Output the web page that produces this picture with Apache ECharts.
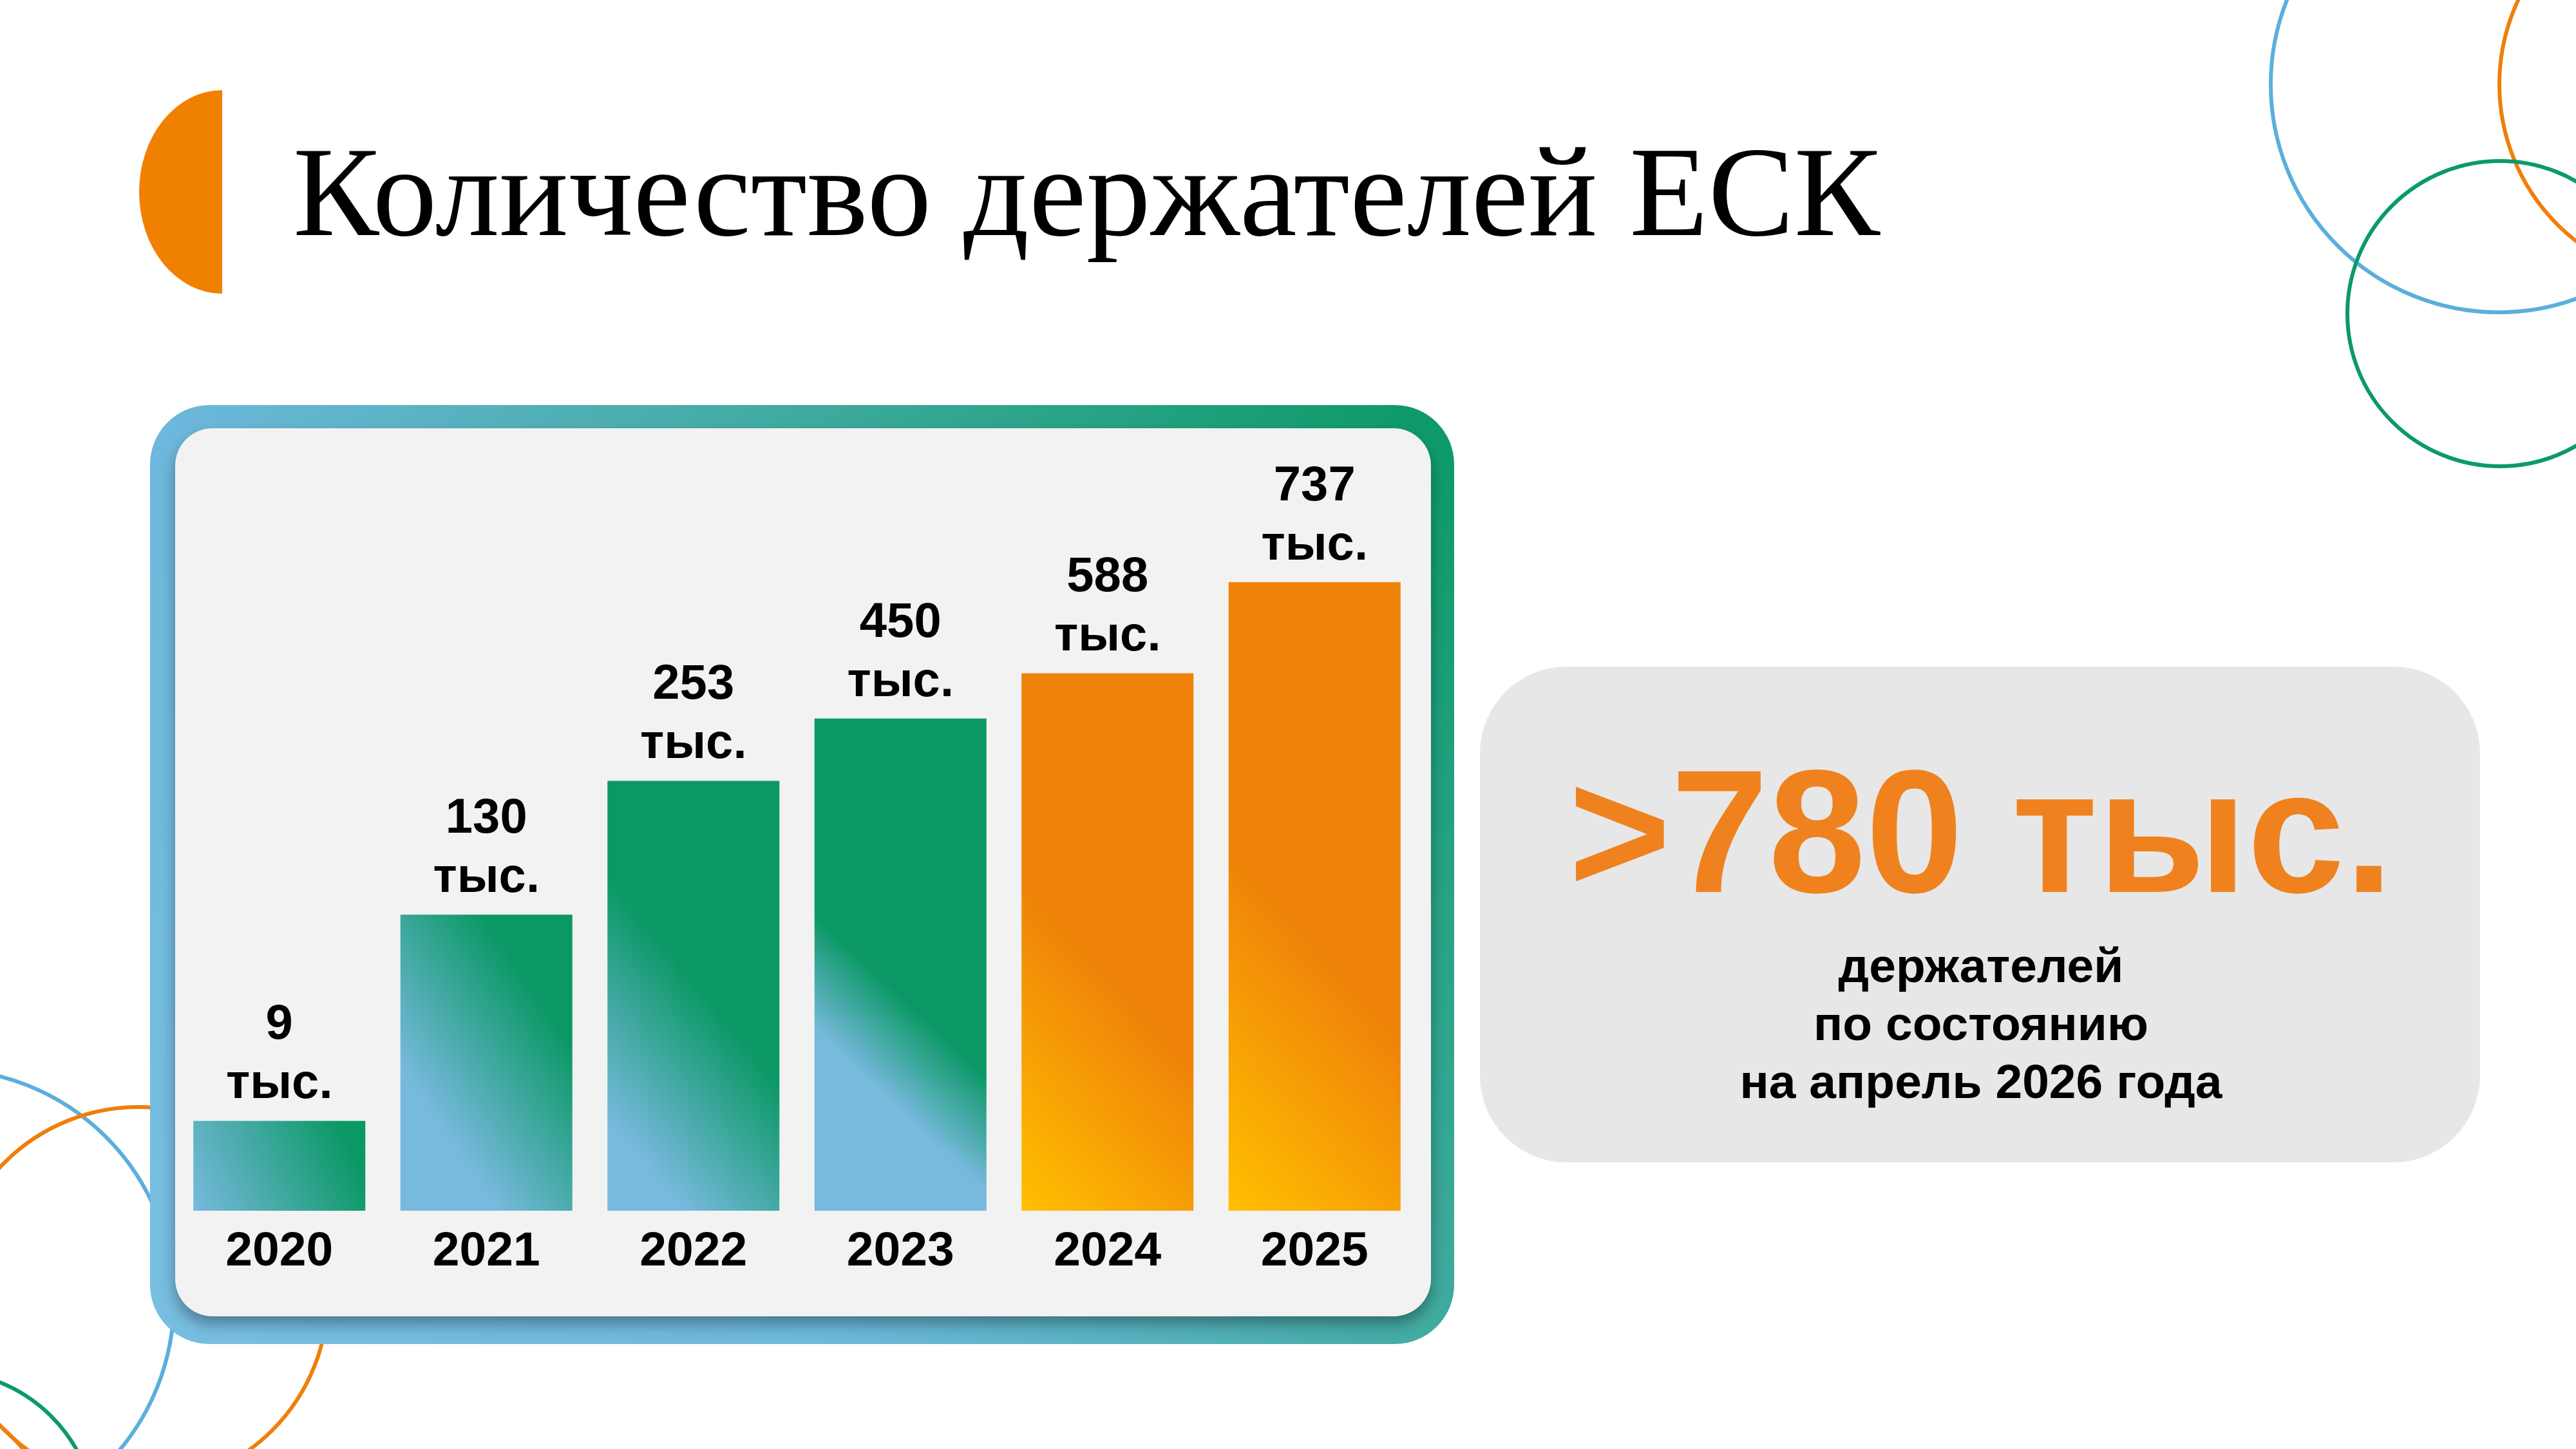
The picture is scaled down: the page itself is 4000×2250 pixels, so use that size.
<!DOCTYPE html>
<html>
<head>
<meta charset="utf-8">
<style>
  html, body { margin: 0; padding: 0; background: #ffffff; }
  #chart { width: 4000px; height: 2250px; }
</style>
<script src="https://cdn.jsdelivr.net/npm/echarts@6/dist/echarts.min.js"></script>
</head>
<body>
<div id="chart"></div>
<script>
// ---- data ----
const titleText = 'Количество держателей ЕСК';
const years = ['2020', '2021', '2022', '2023', '2024', '2025'];
const holdersThousands = [9, 130, 253, 450, 588, 737];      // printed values, тыс.
const barLevel = [14.3, 47.1, 68.4, 78.3, 85.5, 100];        // drawn bar height, % of tallest bar
const unitLabel = 'тыс.';
const headline = '>780 тыс.';
const noteLines = ['держателей', 'по состоянию', 'на апрель 2026 года'];

// ---- styles ----
const BLUE = '#78b9de', GREEN = '#0a9864', YELLOW = '#ffc000', ORANGE = '#ef8209';
function lin(x, y, x2, y2, stops) {
  return { type: 'linear', x: x, y: y, x2: x2, y2: y2,
           colorStops: stops.map(s => ({ offset: s[0], color: s[1] })) };
}
const barFills = [
  lin(0, 1, 0.9, 0.2, [[0, BLUE], [1, GREEN]]),
  lin(0.15, 0.65, 0.9, 0.35, [[0, BLUE], [1, GREEN]]),
  lin(0, 0.91, 1, 0.576, [[0.15, BLUE], [0.85, GREEN]]),
  lin(0, 0.864, 1, 0.494, [[0.33, BLUE], [0.67, GREEN]]),
  lin(0, 1, 0.96, 0.716, [[0, YELLOW], [1, ORANGE]]),
  lin(0, 1, 1.056, 0.737, [[0, YELLOW], [1, ORANGE]])
];
const SANS = '"Liberation Sans", Arial, sans-serif';
const SERIF = '"Liberation Serif", "Times New Roman", serif';

const chart = echarts.init(document.getElementById('chart'), null, { renderer: 'canvas' });

function ring(cx, cy, r, color) {
  return { type: 'circle', z: 0, shape: { cx: cx, cy: cy, r: r },
           style: { fill: 'none', stroke: color, lineWidth: 6 } };
}

const option = {
  backgroundColor: '#ffffff',
  animation: false,
  grid: { left: 273, width: 1929, top: 904, height: 976, containLabel: false },
  xAxis: {
    type: 'category',
    data: years,
    axisLine: { show: false },
    axisTick: { show: false },
    axisLabel: { color: '#000', fontFamily: SANS, fontWeight: 'bold', fontSize: 75, margin: 27 }
  },
  yAxis: { type: 'value', min: 0, max: 100, show: false, splitLine: { show: false } },
  graphic: [
    // decorative rings, bottom-left (behind panel)
    ring(-90, 2020, 360, '#5aafdc'),
    ring(215, 2013, 294, '#ef7f0a'),
    ring(-90, 2369, 240, '#0b9a68'),
    ring(-250, 2500, 380, '#ef7f0a'),
    // decorative rings, top-right
    ring(3880, 131, 354, '#5aafdc'),
    ring(4189, 131, 308, '#ef7f0a'),
    ring(3882, 487, 237, '#0b9a68'),
    // orange half-ellipse near title
    { type: 'sector', z: 0, x: 345, y: 298, scaleX: 129 / 158, scaleY: 1,
      shape: { cx: 0, cy: 0, r0: 0, r: 158, startAngle: Math.PI / 2, endAngle: Math.PI * 1.5, clockwise: true },
      style: { fill: '#f08000' } },
    // title
    { type: 'text', z: 1, x: 455, y: 312,
      style: { text: titleText, font: '200px ' + SERIF, fill: '#000', verticalAlign: 'middle', align: 'left' } },
    // chart frame
    { type: 'rect', z: 0, shape: { x: 233, y: 629, width: 2025, height: 1458, r: 92 },
      style: { fill: lin(0, 1, 1, 0, [[0, '#78bee2'], [0.35, '#6cb8dc'], [0.66, '#40aba0'], [1, '#0a9965']]) } },
    { type: 'rect', z: 0, shape: { x: 272, y: 665, width: 1950, height: 1379, r: 58 },
      style: { fill: '#f2f2f2', shadowColor: 'rgba(0,0,0,0.34)', shadowBlur: 22, shadowOffsetY: 12 } },
    // right info panel
    { type: 'rect', z: 0, shape: { x: 2298, y: 1035, width: 1553, height: 770, r: 135 },
      style: { fill: '#e7e7e7' } },
    { type: 'text', z: 1, x: 3076, y: 1310,
      style: { text: headline, font: 'bold 272px ' + SANS, fill: '#ef821e', align: 'center', verticalAlign: 'middle' } },
    { type: 'text', z: 1, x: 3076, y: 1594,
      style: { text: noteLines.join('\n'), font: 'bold 75px ' + SANS, lineHeight: 90,
               fill: '#000', align: 'center', verticalAlign: 'middle' } }
  ],
  series: [{
    type: 'bar',
    z: 5,
    barWidth: 267,
    data: barLevel.map((v, i) => ({ value: v, itemStyle: { color: barFills[i] } })),
    label: {
      show: true,
      position: 'top',
      distance: 10,
      formatter: p => holdersThousands[p.dataIndex] + '\n' + unitLabel,
      color: '#000',
      fontFamily: SANS,
      fontWeight: 'bold',
      fontSize: 76,
      lineHeight: 92,
      align: 'center'
    }
  }]
};
chart.setOption(option);
</script>
</body>
</html>
